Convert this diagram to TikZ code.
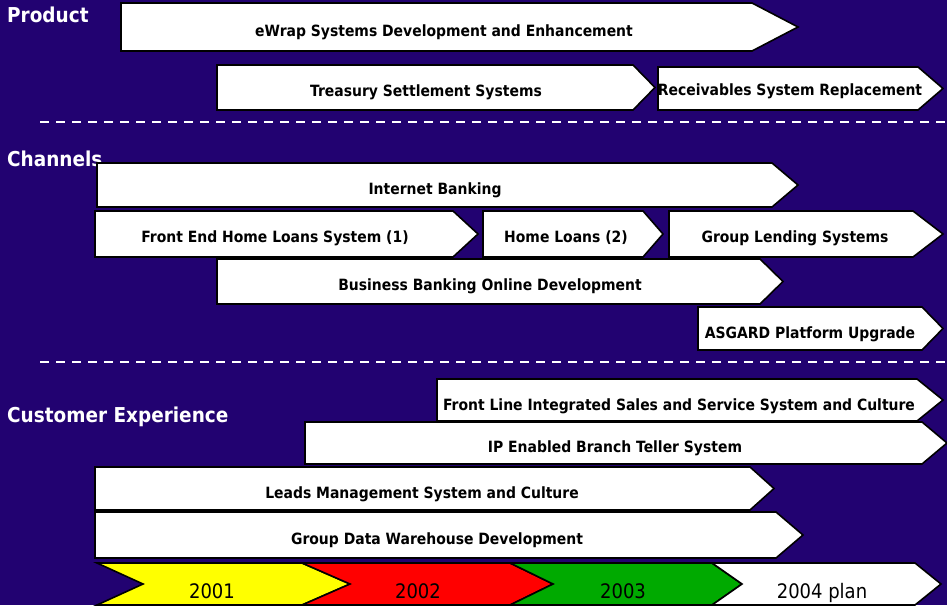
\documentclass[tikz,border=0pt]{standalone}
\usepackage{fontspec}
\setmainfont{DejaVu Sans}[FakeStretch=0.9]
\definecolor{navy}{RGB}{34,2,113}
\definecolor{yrone}{RGB}{255,255,0}
\definecolor{yrtwo}{RGB}{255,0,0}
\definecolor{yrthree}{RGB}{0,170,0}

\begin{document}
\begin{tikzpicture}[x=1pt,y=-1pt,
  bar/.style={draw=black, line width=1.6pt, fill=white, line join=miter},
  lbl/.style={font=\bfseries\fontsize{15.5}{18}\selectfont, text=black, inner sep=0pt, anchor=base},
  sect/.style={font=\bfseries\fontsize{20.5}{24}\selectfont, text=white, inner sep=0pt, anchor=base west},
  yr/.style={font=\fontsize{20}{24}\selectfont, text=black, inner sep=0pt, anchor=base},
  sep/.style={white, line width=1.4pt, dash pattern=on 9pt off 7pt}]
\fill[navy] (0,0) rectangle (947,605);
\useasboundingbox (0,0) rectangle (947,605);

% section headings
\node[sect] (product) at (7,23) {Product};
\node[sect] (channels) at (7,166) {Channels};
\node[sect] (custexp) at (7,422) {Customer Experience};

% dashed separators
\draw[sep] (40,122) -- (947,122);
\draw[sep] (40,362) -- (947,362);

% project bars: name/left/shoulder/tip/top/bottom/text x/baseline/label
\foreach \n/\xa/\xb/\xc/\ya/\yb/\tx/\ty/\l in {
  ewrap/121/752/798/3/51/444/36/eWrap Systems Development and Enhancement,
  treasury/217/633/655/65/110/426/96/Treasury Settlement Systems,
  receiv/658/918/943/67/110/790/95/Receivables System Replacement,
  inetbank/97/772/798/163/207/435/194/Internet Banking,
  homeone/95/453/478/211/257/275/242/Front End Home Loans System (1),
  hometwo/483/643/663/211/257/566/242/Home Loans (2),
  grplend/669/913/943/211/257/795/242/Group Lending Systems,
  bizbank/217/760/783/259/304/490/290/Business Banking Online Development,
  asgard/698/922/943/307/350/810/338/ASGARD Platform Upgrade,
  frontline/437/917/943/379/421/679/410/Front Line Integrated Sales and Service System and Culture,
  ipteller/305/922/947/422/464/615/452/IP Enabled Branch Teller System,
  leads/95/750/774/467/510/422/498/Leads Management System and Culture,
  gdw/95/776/803/512/558/437/544/Group Data Warehouse Development}{
  \draw[bar] (\xa,\ya) -- (\xb,\ya) -- (\xc,{(\ya+\yb)/2}) -- (\xb,\yb) -- (\xa,\yb) -- cycle;
  \node[lbl] (\n) at (\tx,\ty) {\l};
}

% year chevrons: name/left/notch/shoulder/tip/colour/text x/label
\foreach \n/\xa/\xn/\xb/\xc/\col/\tx/\l in {
  yone/97/143/302/350/yrone/212/2001,
  ytwo/302/350/510/553/yrtwo/418/2002,
  ythree/510/553/712/742/yrthree/623/2003,
  yfour/712/742/915/941/white/822/2004 plan}{
  \draw[bar, fill=\col] (\xa,563) -- (\xb,563) -- (\xc,584) -- (\xb,605) -- (\xa,605) -- (\xn,584) -- cycle;
  \node[yr] (\n) at (\tx,598) {\l};
}
\end{tikzpicture}
\end{document}
